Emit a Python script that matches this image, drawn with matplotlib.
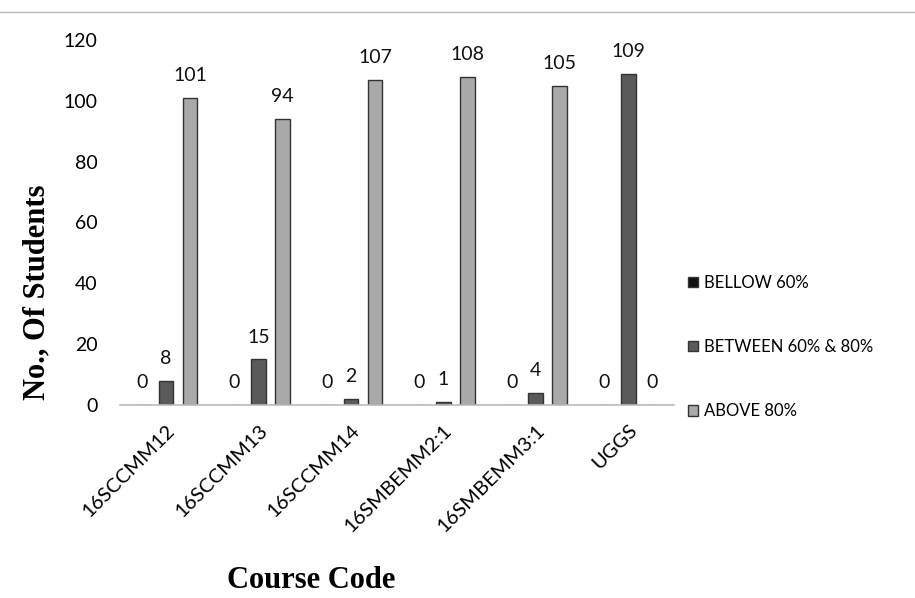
import matplotlib.pyplot as plt
import numpy as np

courses = ['16SCCMM12', '16SCCMM13', '16SCCMM14', '16SMBEMM2:1', '16SMBEMM3:1', 'UGGS']
bellow_60 = [0, 0, 0, 0, 0, 0]
between_60_80 = [8, 15, 2, 1, 4, 109]
above_80 = [101, 94, 107, 108, 105, 0]
series_names = ['BELLOW 60%', 'BETWEEN 60% & 80%', 'ABOVE 80%']
y_ticks = [0, 20, 40, 60, 80, 100, 120]

fig = plt.figure(figsize=(9.15, 5.98), dpi=100)
ax = fig.add_axes([0.131, 0.323, 0.606, 0.61])

x = np.arange(len(courses))
w = 0.16
off = 0.26
colors = ['#111111', '#5a5a5a', '#a9a9a9']
series = [bellow_60, between_60_80, above_80]

for i, (vals, name, c) in enumerate(zip(series, series_names, colors)):
    pos = x + (i - 1) * off
    ax.bar(pos, vals, width=w, color=c, edgecolor='#333333', linewidth=1.0, label=name)
    for px, v in zip(pos, vals):
        ax.text(px, v + 4.5, str(v), ha='center', va='bottom', fontsize=14,
                family='Lato', color='#111111')

ax.set_xlim(-0.5, 5.5)
ax.set_ylim(0, 120)
ax.set_yticks(y_ticks)
ax.set_yticklabels([str(t) for t in y_ticks], fontsize=14, family='Lato')
ax.set_xticks(x)
ax.set_xticklabels(courses, rotation=45, ha='right', rotation_mode='anchor',
                   fontsize=14.5, family='Lato')
ax.tick_params(axis='y', length=0, pad=16)
ax.tick_params(axis='x', length=0, pad=12)

for s in ['top', 'right', 'left']:
    ax.spines[s].set_visible(False)
ax.spines['bottom'].set_color('#bbbbbb')
ax.spines['bottom'].set_linewidth(1.2)

fig.text(37 / 915, 1 - 292 / 598, 'No., Of Students', fontsize=22, fontweight='bold',
         family='Liberation Serif', rotation=90, ha='center', va='center')
fig.text(311 / 915, 1 - 580 / 598, 'Course Code', fontsize=22, fontweight='bold',
         family='Liberation Serif', ha='center', va='center')

fig.legend(loc='center left', bbox_to_anchor=(0.735, 1 - 347 / 598), frameon=False,
           prop={'family': 'Lato', 'size': 12}, handlelength=0.6, handleheight=0.6,
           handletextpad=0.4, labelspacing=2.9)

fig.add_artist(plt.Line2D([0.0, 1.0], [0.98, 0.98], color='#bbbbbb', linewidth=1.0,
                          transform=fig.transFigure))

fig.savefig('out.png', dpi=100)
